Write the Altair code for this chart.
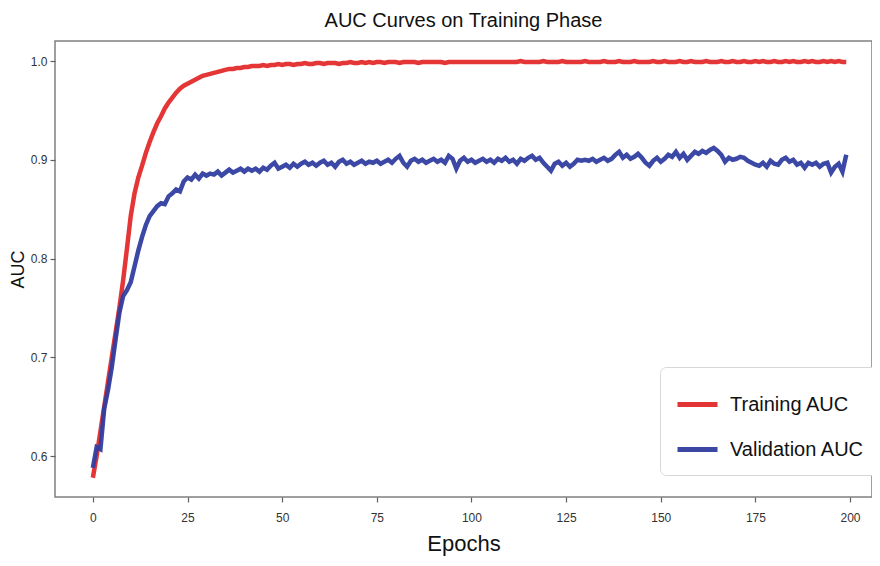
import altair as alt
import pandas as pd

epochs = list(range(200))

training_auc = [
    0.578, 0.600, 0.625, 0.650, 0.675, 0.700, 0.725, 0.750, 0.778, 0.810,
    0.843, 0.866, 0.882, 0.894, 0.907, 0.918, 0.928, 0.937, 0.944, 0.952,
    0.958, 0.963, 0.968, 0.972, 0.975, 0.977, 0.979, 0.981, 0.983, 0.985,
    0.986, 0.987, 0.988, 0.989, 0.990, 0.991, 0.992, 0.992, 0.993, 0.993,
    0.994, 0.994, 0.995, 0.995, 0.995, 0.996, 0.995, 0.996, 0.996, 0.997,
    0.996, 0.997, 0.997, 0.996, 0.997, 0.997, 0.998, 0.997, 0.997, 0.998,
    0.998, 0.997, 0.998, 0.998, 0.998, 0.997, 0.998, 0.998, 0.999, 0.998,
    0.998, 0.999, 0.998, 0.999, 0.998, 0.999, 0.999, 0.998, 0.999, 0.999,
    0.999, 0.998, 0.999, 0.999, 0.999, 0.999, 0.998, 0.999, 0.999, 0.999,
    0.999, 0.999, 0.999, 0.998, 0.999, 0.999, 0.999, 0.999, 0.999, 0.999,
    0.999, 0.999, 0.999, 0.999, 0.999, 0.999, 0.999, 0.999, 0.999, 0.999,
    0.999, 0.999, 0.999, 1.000, 0.999, 0.999, 0.999, 0.999, 0.999, 1.000,
    0.999, 0.999, 0.999, 0.999, 1.000, 0.999, 0.999, 0.999, 0.999, 0.999,
    1.000, 0.999, 0.999, 0.999, 0.999, 1.000, 0.999, 0.999, 0.999, 1.000,
    0.999, 0.999, 0.999, 1.000, 0.999, 0.999, 0.999, 0.999, 1.000, 0.999,
    0.999, 1.000, 0.999, 0.999, 0.999, 1.000, 0.999, 0.999, 1.000, 0.999,
    0.999, 0.999, 1.000, 0.999, 0.999, 0.999, 1.000, 0.999, 0.999, 1.000,
    0.999, 0.999, 1.000, 0.999, 0.999, 1.000, 0.999, 1.000, 0.999, 0.999,
    1.000, 0.999, 0.999, 1.000, 0.999, 1.000, 0.999, 0.999, 1.000, 0.999,
    1.000, 0.999, 0.999, 1.000, 0.999, 1.000, 0.999, 1.000, 0.999, 0.999,
]

validation_auc = [
    0.588, 0.609, 0.607, 0.648, 0.667, 0.690, 0.718, 0.745, 0.762, 0.768,
    0.776, 0.792, 0.808, 0.822, 0.834, 0.843, 0.848, 0.853, 0.856, 0.855,
    0.863, 0.866, 0.870, 0.868, 0.878, 0.882, 0.880, 0.885, 0.881, 0.886,
    0.884, 0.886, 0.885, 0.888, 0.884, 0.887, 0.890, 0.887, 0.889, 0.891,
    0.888, 0.891, 0.889, 0.891, 0.888, 0.892, 0.890, 0.894, 0.897, 0.891,
    0.893, 0.895, 0.892, 0.896, 0.893, 0.896, 0.898, 0.895, 0.897, 0.894,
    0.897, 0.899, 0.895, 0.897, 0.893, 0.898, 0.900, 0.896, 0.898, 0.895,
    0.897, 0.899, 0.896, 0.898, 0.897, 0.899, 0.896, 0.898, 0.900, 0.897,
    0.901, 0.904, 0.897, 0.893, 0.899, 0.901, 0.898, 0.900, 0.897, 0.899,
    0.901, 0.898, 0.900, 0.897, 0.904, 0.901, 0.891, 0.899, 0.902, 0.898,
    0.900, 0.897, 0.899, 0.901, 0.898, 0.900, 0.897, 0.901, 0.899, 0.902,
    0.898, 0.900, 0.896, 0.901, 0.899, 0.902, 0.904, 0.900, 0.902, 0.897,
    0.893, 0.889, 0.896, 0.898, 0.894, 0.897, 0.893, 0.896, 0.900, 0.899,
    0.900, 0.899, 0.901, 0.898, 0.900, 0.902, 0.899, 0.901, 0.905, 0.908,
    0.902, 0.905, 0.901, 0.903, 0.906, 0.902, 0.897, 0.894, 0.899, 0.902,
    0.898, 0.901, 0.905, 0.903, 0.908, 0.902, 0.906, 0.900, 0.904, 0.908,
    0.906, 0.909, 0.907, 0.910, 0.912, 0.909, 0.905, 0.898, 0.902, 0.900,
    0.901, 0.903, 0.902, 0.899, 0.897, 0.895, 0.894, 0.897, 0.893, 0.899,
    0.896, 0.895, 0.900, 0.902, 0.898, 0.900, 0.895, 0.897, 0.892, 0.897,
    0.895, 0.897, 0.893, 0.896, 0.897, 0.887, 0.893, 0.896, 0.888, 0.905,
]

series_names = ["Training AUC", "Validation AUC"]
series_colors = ["#e32b2b", "#323ea0"]
x_ticks = [0, 25, 50, 75, 100, 125, 150, 175, 200]
y_ticks = [0.6, 0.7, 0.8, 0.9, 1.0]

df = pd.concat([
    pd.DataFrame({"epoch": epochs, "auc": training_auc, "series": series_names[0]}),
    pd.DataFrame({"epoch": epochs, "auc": validation_auc, "series": series_names[1]}),
])

FONT = "Liberation Sans, Arial, sans-serif"

chart = (
    alt.Chart(df)
    .mark_line(strokeWidth=4.5, opacity=0.95)
    .encode(
        x=alt.X(
            "epoch:Q",
            scale=alt.Scale(domain=[-10, 205.8], nice=False, zero=False),
            axis=alt.Axis(values=x_ticks, title="Epochs", grid=False, format="d"),
        ),
        y=alt.Y(
            "auc:Q",
            scale=alt.Scale(domain=[0.5585, 1.0203], nice=False, zero=False),
            axis=alt.Axis(values=y_ticks, title="AUC", grid=False, format=".1f"),
        ),
        color=alt.Color(
            "series:N",
            scale=alt.Scale(domain=series_names, range=series_colors),
            legend=alt.Legend(
                title=None,
                orient="none",
                legendX=605,
                legendY=326,
                symbolType="stroke",
                symbolSize=1600,
                symbolStrokeWidth=5,
                labelFontSize=20,
                labelFont=FONT,
                labelColor="#111",
                rowPadding=12,
                padding=15,
                cornerRadius=6,
                strokeColor="#d8d8d8",
                fillColor="white",
                labelOffset=10,
            ),
        ),
    )
    .properties(
        width=817,
        height=456,
        autosize=alt.AutoSizeParams(type="none"),
        padding={"left": 47, "top": 33, "right": 0, "bottom": 61},
        title=alt.TitleParams(
            "AUC Curves on Training Phase",
            fontSize=20,
            font=FONT,
            fontWeight="normal",
            color="#111",
            offset=10,
        ),
    )
    .configure_view(stroke="#808080", strokeWidth=1.5)
    .configure_axis(
        domain=False,
        tickColor="#606060",
        tickSize=5,
        tickWidth=1.2,
        labelFont=FONT,
        labelFontSize=12,
        labelColor="#333333",
        titleFont=FONT,
        titleFontWeight="normal",
        titleColor="#111",
    )
    .configure_axisX(labelPadding=10, titleFontSize=22, titlePadding=10)
    .configure_axisY(labelPadding=3, titleFontSize=18, titlePadding=3)
)

chart.save("out.html", embed_options={"renderer": "svg", "actions": False})
